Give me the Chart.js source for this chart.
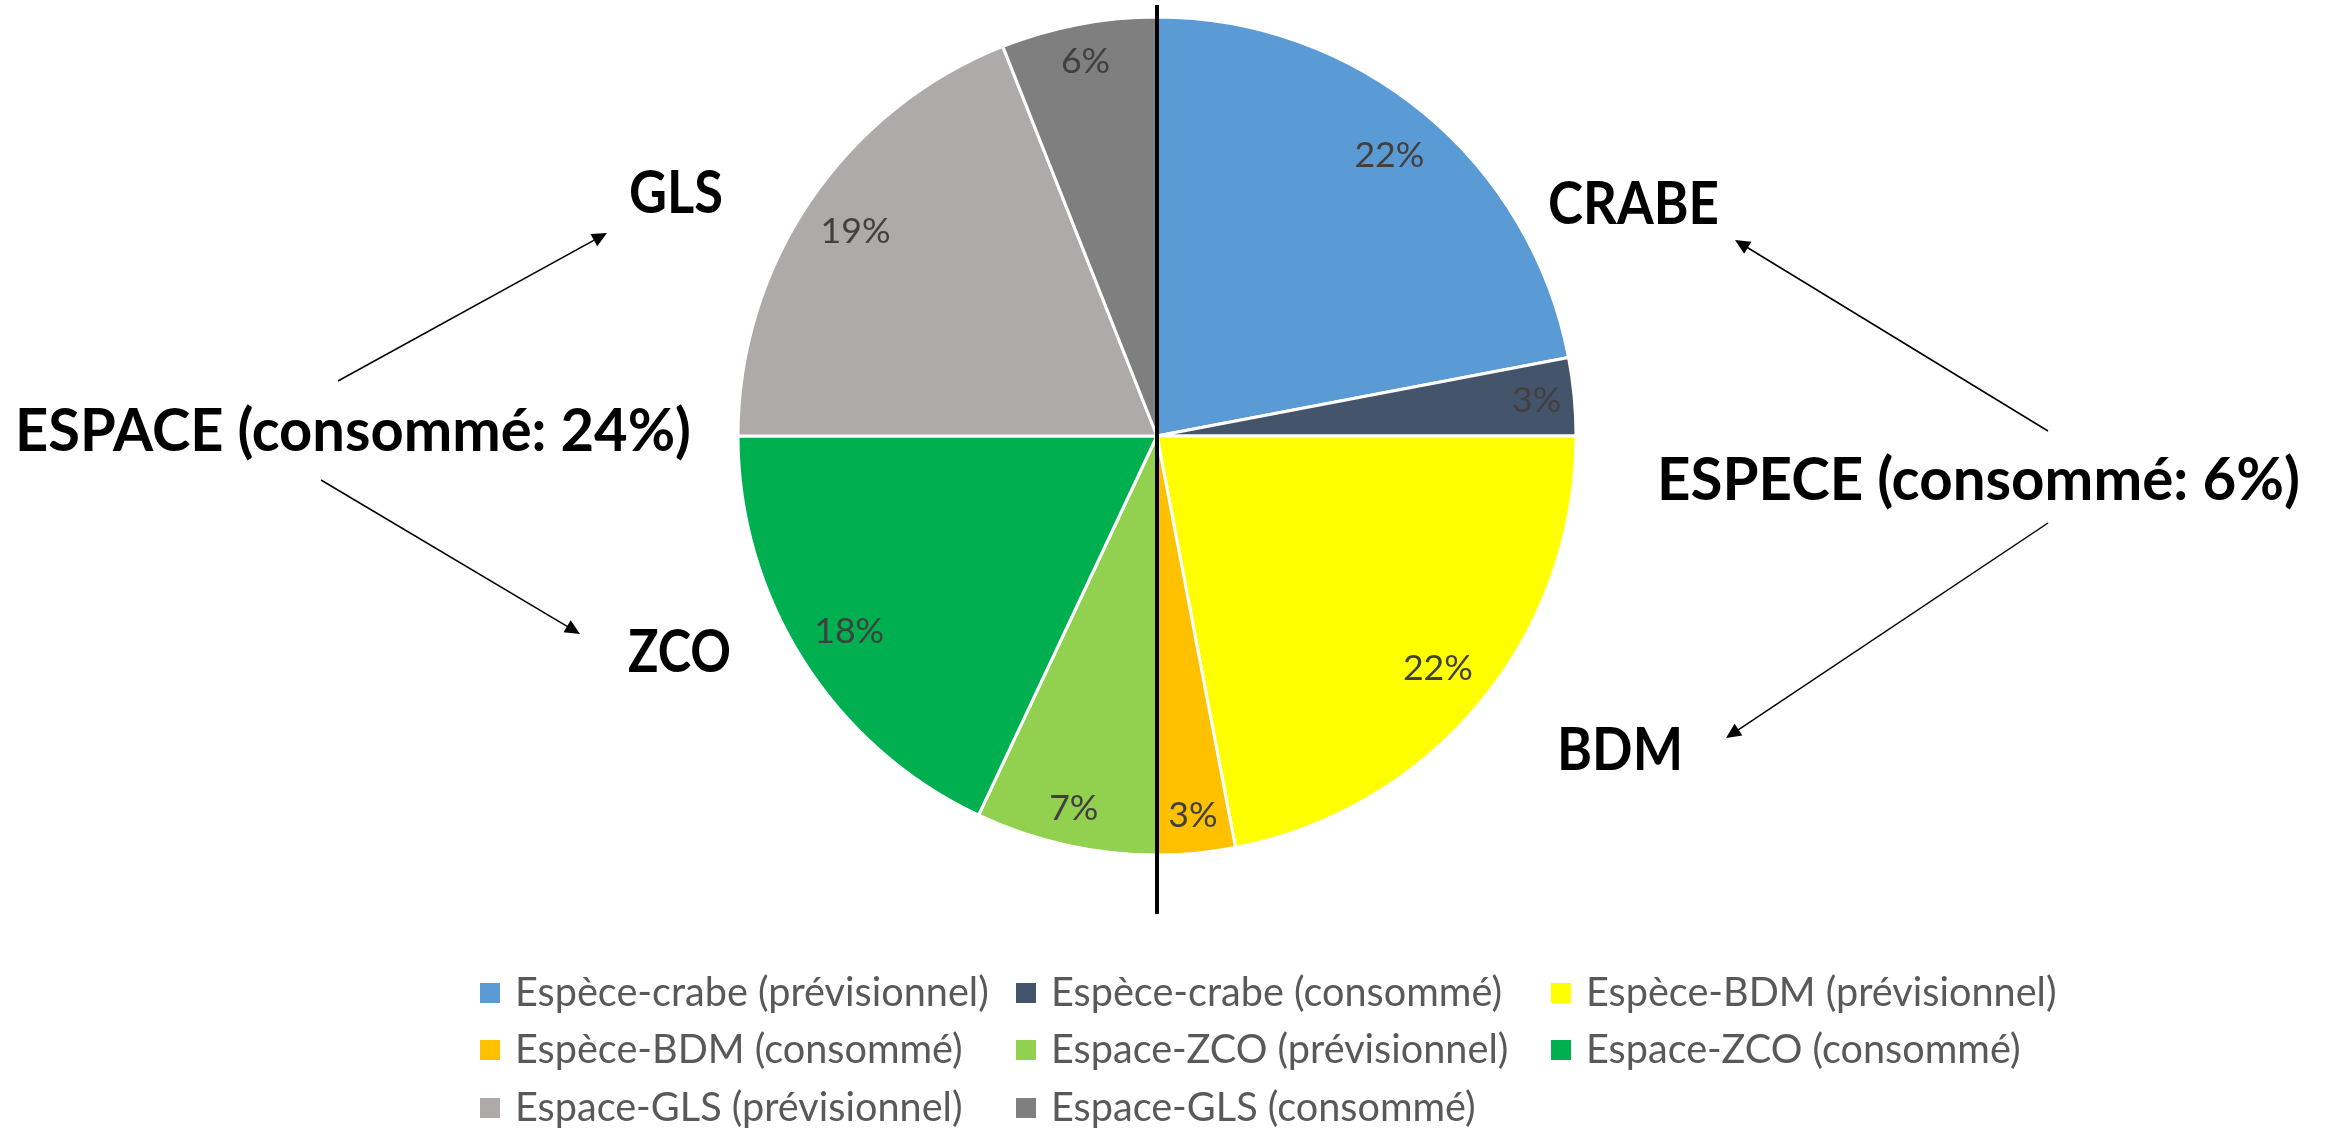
<!DOCTYPE html>
<html>
<head>
<meta charset="utf-8">
<script src="https://cdn.jsdelivr.net/npm/chart.js@4.4.0/dist/chart.umd.min.js"></script>
<style>
  html, body { margin: 0; padding: 0; background: #fff; }
  #wrap { width: 2333px; height: 1128px; position: relative; }
</style>
</head>
<body>
<div id="wrap"><canvas id="pieChart"></canvas></div>
<script>
// Slices, clockwise from 12 o'clock
const labels = [
  'Espèce-crabe (prévisionnel)', 'Espèce-crabe (consommé)',
  'Espèce-BDM (prévisionnel)', 'Espèce-BDM (consommé)',
  'Espace-ZCO (prévisionnel)', 'Espace-ZCO (consommé)',
  'Espace-GLS (prévisionnel)', 'Espace-GLS (consommé)'
];
const values = [22, 3, 22, 3, 7, 18, 19, 6];
const colors = ['#5B9BD5', '#44546A', '#FFFF00', '#FFC000', '#92D050', '#00B050', '#AEAAAA', '#7F7F7F'];

// Annotation texts around the pie
const groupTexts = ['ESPACE (consommé: 24%)', 'ESPECE (consommé: 6%)'];
const targetTexts = ['GLS', 'ZCO', 'CRABE', 'BDM'];

const FONT = 'Lato';

// font size (px) so that text is targetW wide
function fitSize(ctx, text, weight, targetW) {
  ctx.font = `${weight} 100px ${FONT}`;
  return 100 * targetW / ctx.measureText(text).width;
}

// draw text squeezed/stretched horizontally to a given width
function fitText(ctx, text, x, y, w) {
  const k = w / ctx.measureText(text).width;
  ctx.save();
  ctx.translate(x, y);
  ctx.scale(k, 1);
  ctx.fillText(text, 0, 0);
  ctx.restore();
}

function arrow(ctx, x1, y1, x2, y2) {
  const a = Math.atan2(y2 - y1, x2 - x1);
  const len = 15, hw = 7;
  ctx.beginPath();
  ctx.moveTo(x1, y1);
  ctx.lineTo(x2 - Math.cos(a) * len * 0.8, y2 - Math.sin(a) * len * 0.8);
  ctx.stroke();
  ctx.beginPath();
  ctx.moveTo(x2, y2);
  ctx.lineTo(x2 - Math.cos(a) * len - Math.sin(a) * hw, y2 - Math.sin(a) * len + Math.cos(a) * hw);
  ctx.lineTo(x2 - Math.cos(a) * len + Math.sin(a) * hw, y2 - Math.sin(a) * len - Math.cos(a) * hw);
  ctx.closePath();
  ctx.fill();
}

const overlay = {
  id: 'overlay',
  afterDatasetsDraw(chart) {
    const ctx = chart.ctx;
    const arcs = chart.getDatasetMeta(0).data;
    const total = values.reduce((a, b) => a + b, 0);
    const cx = arcs[0].x, cy = arcs[0].y, r = arcs[0].outerRadius;

    ctx.save();
    // vertical divider through the centre
    ctx.strokeStyle = '#000';
    ctx.lineWidth = 4;
    ctx.beginPath();
    ctx.moveTo(cx, cy - r - 12);
    ctx.lineTo(cx, cy + r + 59);
    ctx.stroke();

    // percentage labels
    const size = fitSize(ctx, '22%', '', 70);
    ctx.font = `${size}px ${FONT}`;
    ctx.fillStyle = '#404040';
    ctx.textAlign = 'center';
    ctx.textBaseline = 'middle';
    arcs.forEach((arc, i) => {
      const mid = (arc.startAngle + arc.endAngle) / 2;
      const k = values[i] < 10 ? 0.91 : 0.87;
      const txt = Math.round(values[i] / total * 100) + '%';
      ctx.fillText(txt, cx + Math.cos(mid) * r * k, cy + Math.sin(mid) * r * k);
    });
    ctx.restore();
  },
  afterDraw(chart) {
    const ctx = chart.ctx;
    ctx.save();

    // bold annotations
    ctx.font = `bold 60px ${FONT}`;
    ctx.fillStyle = '#000';
    ctx.textAlign = 'left';
    ctx.textBaseline = 'alphabetic';
    fitText(ctx, groupTexts[0], 15, 451, 676);
    fitText(ctx, groupTexts[1], 1657, 500, 643);
    fitText(ctx, targetTexts[0], 629, 213, 94);
    fitText(ctx, targetTexts[1], 628, 672, 103);
    fitText(ctx, targetTexts[2], 1548, 224, 171);
    fitText(ctx, targetTexts[3], 1557, 770, 126);

    // arrows
    ctx.strokeStyle = '#000';
    ctx.lineWidth = 1.5;
    arrow(ctx, 338, 381, 607, 233);
    arrow(ctx, 321, 480, 580, 634);
    arrow(ctx, 2048, 431, 1735, 240);
    arrow(ctx, 2048, 523, 1726, 738);

    // legend, 3 columns
    const colX = [480, 1016, 1551];
    const rowY = [993, 1050, 1108];
    const lsize = fitSize(ctx, labels[0], '', 474);
    ctx.font = `${lsize}px ${FONT}`;
    ctx.textBaseline = 'middle';
    labels.forEach((lab, i) => {
      const x = colX[i % 3], y = rowY[Math.floor(i / 3)];
      ctx.fillStyle = colors[i];
      ctx.fillRect(x, y - 10, 20, 20);
      ctx.fillStyle = '#595959';
      ctx.fillText(lab, x + 35, y);
    });
    ctx.restore();
  }
};

Chart.defaults.font.family = FONT;

new Chart(document.getElementById('pieChart'), {
  type: 'pie',
  data: {
    labels: labels,
    datasets: [{
      data: values,
      backgroundColor: colors,
      borderColor: '#ffffff',
      borderWidth: 3
    }]
  },
  options: {
    responsive: true,
    maintainAspectRatio: false,
    animation: false,
    radius: 419,
    layout: { padding: { left: 0, right: 19, top: 0, bottom: 256 } },
    plugins: {
      legend: { display: false },
      tooltip: { enabled: false }
    }
  },
  plugins: [overlay]
});
</script>
</body>
</html>
